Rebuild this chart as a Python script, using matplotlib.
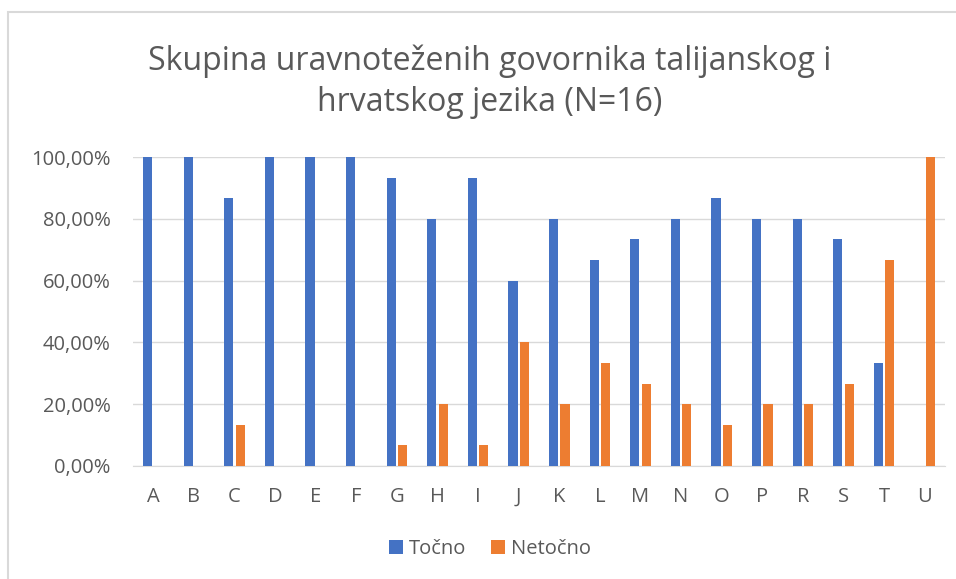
import numpy as np
import matplotlib.pyplot as plt
from matplotlib.patches import Rectangle
from matplotlib.ticker import FuncFormatter

categories = ["A", "B", "C", "D", "E", "F", "G", "H", "I", "J",
              "K", "L", "M", "N", "O", "P", "R", "S", "T", "U"]
tocno = [100, 100, 86.67, 100, 100, 100, 93.33, 80, 93.33, 60,
         80, 66.67, 73.33, 80, 86.67, 80, 80, 73.33, 33.33, 0]
netocno = [0, 0, 13.33, 0, 0, 0, 6.67, 20, 6.67, 40,
           20, 33.33, 26.67, 20, 13.33, 20, 20, 26.67, 66.67, 100]

BLUE = "#4472C4"
ORANGE = "#ED7D31"
TEXT = "#595959"
GRID = "#D9D9D9"

plt.rcParams["font.family"] = ["Open Sans", "DejaVu Sans"]

W, H = 956, 579
fig = plt.figure(figsize=(W / 100, H / 100), dpi=100)
ax = fig.add_axes([133 / W, 1 - 466 / H, (945 - 133) / W, (466 - 157) / H])

x = np.arange(len(categories))
bw = 0.23
ax.bar(x - 0.14, tocno, bw, color=BLUE, label="Točno", zorder=3)
ax.bar(x + 0.14, netocno, bw, color=ORANGE, label="Netočno", zorder=3)

ax.set_xlim(-0.5, len(categories) - 0.5)
ax.set_ylim(0, 100)
ax.set_yticks(np.arange(0, 101, 20))
ax.yaxis.set_major_formatter(FuncFormatter(lambda v, p: f"{v:.2f}%".replace(".", ",")))
ax.set_xticks(x)
ax.set_xticklabels(categories)
ax.tick_params(axis="both", length=0, colors=TEXT, labelsize=14.5)
ax.tick_params(axis="x", pad=15)
ax.tick_params(axis="y", pad=16)
ax.grid(axis="y", color=GRID, linewidth=1, zorder=0)
for s in ["top", "right", "left"]:
    ax.spines[s].set_visible(False)
ax.spines["bottom"].set_color(GRID)

fig.text(490 / W, 1 - 82 / H, "Skupina uravnoteženih govornika talijanskog i\nhrvatskog jezika (N=16)",
         ha="center", va="center", fontsize=23, color=TEXT, linespacing=1.3)

fig.legend(loc="center", bbox_to_anchor=(490 / W, 1 - 549 / H), ncol=2, frameon=False,
           fontsize=14.5, labelcolor=TEXT, handlelength=0.7, handleheight=0.7,
           handletextpad=0.3, columnspacing=1.2)

fig.patches.append(Rectangle((8 / W, -0.1), 1.2, 1 - 12 / H + 0.1, transform=fig.transFigure,
                             fill=False, edgecolor=GRID, linewidth=1.5))

fig.savefig("out.png", dpi=100)
